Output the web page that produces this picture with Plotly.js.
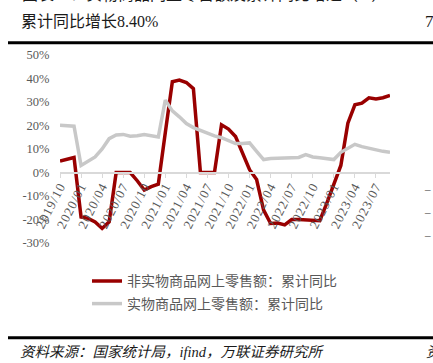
<!DOCTYPE html>
<html>
<head>
<meta charset="utf-8">
<script src="https://cdn.plot.ly/plotly-3.0.1.min.js"></script>
<style>
html,body{margin:0;padding:0;background:#fff;}
#chart{width:433px;height:363px;}
.xtick text{letter-spacing:1px;}
</style>
</head>
<body>
<div id="chart"></div>
<script>
// ---- data ----
var months = ["2019/10","2019/11","2019/12",
  "2020/01","2020/02","2020/03","2020/04","2020/05","2020/06","2020/07","2020/08","2020/09","2020/10","2020/11","2020/12",
  "2021/01","2021/02","2021/03","2021/04","2021/05","2021/06","2021/07","2021/08","2021/09","2021/10","2021/11","2021/12",
  "2022/01","2022/02","2022/03","2022/04","2022/05","2022/06","2022/07","2022/08","2022/09","2022/10","2022/11","2022/12",
  "2023/01","2023/02","2023/03","2023/04","2023/05","2023/06","2023/07","2023/08","2023/09"];

var nonPhysical = [4.9, 5.6, 6.4,
  -18.9, -19.5, -21.0, -23.8, -21.0, 0, 0, 0, -3.5, -7.5, -6.0, -5.0,
  17.0, 38.6, 39.3, 38.3, 35.7, 0, 0, 0, 20.3, 18.5, 15.3, 8.5,
  1.2, -3.0, -16.0, -21.7, -21.5, -22.3, -20.0, -20.0, -20.2, -20.4, -20.5, -13.0,
  -5.5, 3.0, 21.0, 28.8, 29.5, 31.8, 31.3, 31.8, 32.8];

var physical = [20.1, 20.0, 19.7,
  3.0, 4.8, 6.6, 10.0, 14.4, 16.0, 16.2, 15.4, 15.6, 16.2, 15.7, 15.1,
  30.8, 26.2, 23.7, 20.8, 19.1, 17.8, 16.8, 15.6, 14.8, 13.5, 12.3, 12.3,
  12.6, 9.0, 5.5, 6.0, 6.1, 6.2, 6.3, 6.4, 7.6, 6.6, 6.3, 5.9,
  5.5, 8.6, 10.4, 12.0, 11.0, 10.3, 9.6, 9.0, 8.6];

var tickMonths = ["2019/10","2020/01","2020/04","2020/07","2020/10","2021/01","2021/04","2021/07","2021/10",
  "2022/01","2022/04","2022/07","2022/10","2023/01","2023/04","2023/07"];
var yTicks = [-30, -20, -10, 0, 10, 20, 30, 40, 50];
var yTickText = ["-30%","-20%","-10%","0%","10%","20%","30%","40%","50%"];

var seriesNames = ["非实物商品网上零售额：累计同比", "实物商品网上零售额：累计同比"];

// ---- layout helpers (pixel -> paper) ----
var ML = 60, MR = 43, MT = 55.3, MB = 119.7;
var PW = 433 - ML - MR, PH = 363 - MT - MB;
function PX(x){ return (x - ML) / PW; }
function PY(y){ return (363 - MB - y) / PH; }

var serif = "Liberation Serif, Noto Sans CJK SC, serif";
var cjk = "Liberation Serif, Noto Sans CJK SC, sans-serif";
var gray = "#595959";

var traces = [
  {x: months, y: nonPhysical, type: "scatter", mode: "lines", name: seriesNames[0],
   line: {color: "#990000", width: 3.5}, legend: "legend"},
  {x: months, y: physical, type: "scatter", mode: "lines", name: seriesNames[1],
   line: {color: "#c8c8c8", width: 3.5}, legend: "legend2"}
];

function ann(text, x, y, opts){
  var a = {text: text, x: PX(x), y: PY(y), xref: "paper", yref: "paper", showarrow: false,
    xanchor: "left", yanchor: "middle", font: {family: cjk, size: 16, color: "#1a1a1a"}};
  for (var k in opts) a[k] = opts[k];
  return a;
}

var layout = {
  width: 433, height: 363,
  margin: {l: ML, r: MR, t: MT, b: MB},
  paper_bgcolor: "#fff", plot_bgcolor: "#fff",
  showlegend: true,
  xaxis: {
    type: "category", range: [0, months.length - 1],
    anchor: "free", position: PY(172.3),
    showline: true, linecolor: "#d9d9d9", linewidth: 1.5,
    showgrid: false, zeroline: false,
    ticks: "outside", ticklen: 4, tickcolor: "#d9d9d9", tickwidth: 1,
    tickmode: "array", tickvals: tickMonths, ticktext: tickMonths,
    ticklabelstandoff: -4,
    tickangle: -63, tickfont: {family: serif, size: 13, color: gray}
  },
  yaxis: {
    range: [-30, 50], showgrid: false, zeroline: false, showline: false,
    tickmode: "array", tickvals: yTicks, ticktext: yTickText,
    ticks: "outside", ticklen: 7, tickcolor: "rgba(0,0,0,0)",
    tickfont: {family: serif, size: 12.5, color: gray}
  },
  legend: {x: PX(87), y: PY(281.7), xanchor: "left", yanchor: "middle",
    font: {family: cjk, size: 14, color: gray}, bgcolor: "rgba(0,0,0,0)"},
  legend2: {x: PX(87), y: PY(304.3), xanchor: "left", yanchor: "middle",
    font: {family: cjk, size: 14, color: gray}, bgcolor: "rgba(0,0,0,0)"},
  shapes: [
    {type: "line", xref: "paper", yref: "paper", x0: PX(8), x1: PX(440), y0: PY(43), y1: PY(43),
     line: {color: "#000", width: 3}},
    {type: "line", xref: "paper", yref: "paper", x0: PX(8), x1: PX(440), y0: PY(338), y1: PY(338),
     line: {color: "#000", width: 3}}
  ],
  annotations: [
    ann("图表23：实物商品网上零售额及累计同比增速（%）", 20, -5),
    ann("累计同比增长8.40%", 19, 22),
    ann("7", 423, 22, {font: {family: serif, size: 17, color: "#1a1a1a"}}),
    ann("2", 424, -5),
    ann("资料来源：国家统计局，ifind，万联证券研究所", 18, 352,
        {font: {family: cjk, size: 14.5, color: "#1a1a1a", style: "italic"}}),
    ann("资", 424, 352, {font: {family: cjk, size: 14.5, color: "#1a1a1a", style: "italic"}}),
    ann("−", 422, 191, {font: {family: serif, size: 12.5, color: gray}}),
    ann("−", 422, 214.3, {font: {family: serif, size: 12.5, color: gray}}),
    ann("−", 422, 237.7, {font: {family: serif, size: 12.5, color: gray}})
  ]
};

Plotly.newPlot("chart", traces, layout, {staticPlot: true, displayModeBar: false});
</script>
</body>
</html>
